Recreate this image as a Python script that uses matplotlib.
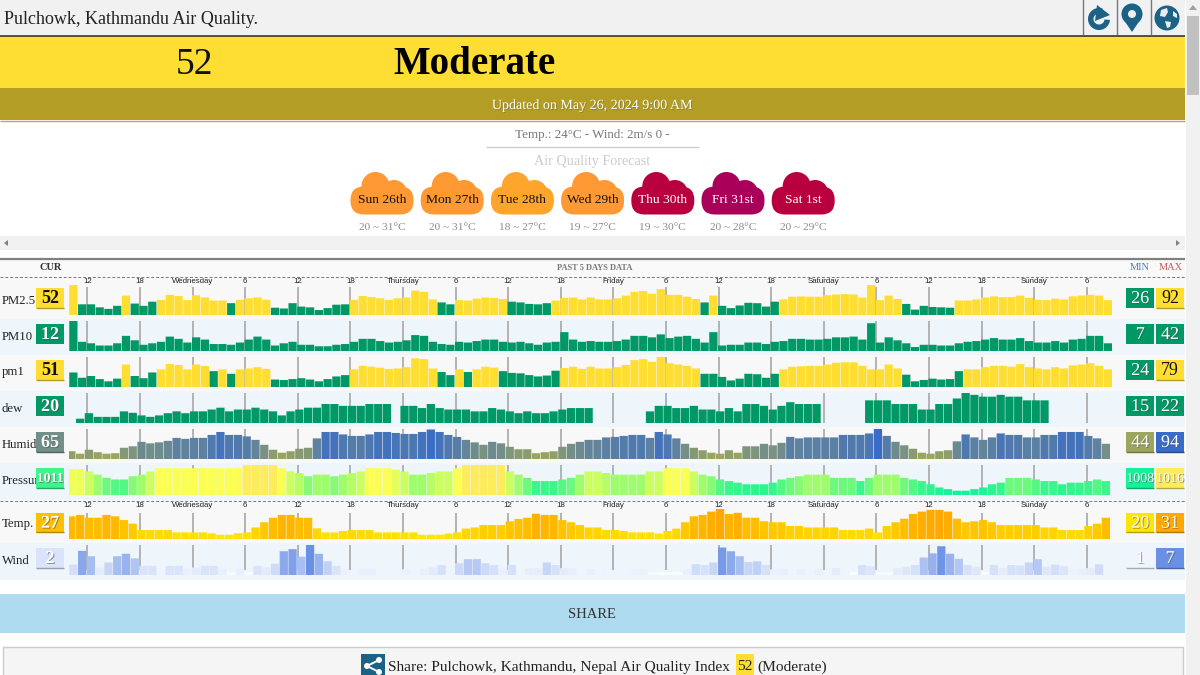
# Pulchowk air quality page: header, forecast clouds and 5 day bar rows

import numpy as np
import matplotlib
matplotlib.use('Agg')
import matplotlib.pyplot as plt
import matplotlib.patheffects as pe
from matplotlib.colors import LinearSegmentedColormap, Normalize
from matplotlib.patches import Rectangle, Circle, FancyBboxPatch, Polygon, Wedge

plt.rcParams['font.family'] = ['Liberation Serif', 'DejaVu Serif']

nan = float('nan')

# forecast
days = ['Sun 26th', 'Mon 27th', 'Tue 28th', 'Wed 29th', 'Thu 30th', 'Fri 31st', 'Sat 1st']
day_ranges = ['20 ~ 31°C', '20 ~ 31°C', '18 ~ 27°C', '19 ~ 27°C', '19 ~ 30°C', '20 ~ 28°C', '20 ~ 29°C']
day_colors = ['#ff9933', '#ff9933', '#ffa52c', '#ff9933', '#b8003f', '#a9005a', '#b8003f']

hour_labels = ['12', '18', 'Wednesday', '6', '12', '18', 'Thursday', '6', '12', '18', 'Friday',
               '6', '12', '18', 'Saturday', '6', '12', '18', 'Sunday', '6']

pm25 = [92,41,41,33,29,37,64,43,37,48,53,66,63,52,65,59,51,51,44,53,57,59,53,32,30,44,35,33,26,31,
        40,41,53,63,60,57,53,57,59,77,74,54,46,41,52,51,56,59,58,55,48,46,42,41,44,51,58,59,54,59,
        54,54,57,64,74,76,69,81,66,66,61,55,46,64,37,31,38,45,44,35,48,54,61,62,61,61,65,67,68,67,
        59,92,52,64,55,42,27,37,34,33,32,51,51,54,59,62,60,60,64,58,53,52,56,54,62,64,66,64,52]
pm10 = [42,14,12,9,9,12,22,16,10,12,14,21,18,13,20,17,11,11,10,13,17,21,17,9,12,14,10,10,8,8,
        10,11,14,18,18,15,13,14,16,23,22,14,11,10,14,13,15,17,17,14,13,14,12,10,13,14,27,17,14,15,
        14,14,15,17,22,22,20,24,19,21,22,18,13,27,9,10,10,13,13,11,14,15,18,18,17,17,18,20,20,21,
        17,39,13,20,16,12,7,10,10,9,9,12,14,15,17,19,17,17,19,15,13,13,15,13,17,18,22,22,12]
pm1 = [44,32,36,29,24,30,62,36,31,44,51,63,61,51,62,59,47,51,41,51,53,56,52,28,27,29,31,28,24,29,
       35,38,51,59,57,55,52,53,56,76,74,53,45,38,51,45,51,57,55,47,43,42,38,35,37,48,54,57,52,57,
       53,53,56,61,72,74,68,79,65,62,59,53,41,41,34,26,30,41,40,32,41,51,57,58,59,59,62,66,67,67,
       59,51,51,62,53,39,24,27,30,28,29,47,51,51,56,59,59,57,63,56,53,51,56,53,60,62,65,59,51]
dew = [nan,15,16.5,15.5,15.5,15.5,17,16.6,15.9,15.5,15.9,16.5,17,16.5,17,17,17.5,18,17,17.5,
       17.5,18,17.5,17,15.9,17,17.5,18,18,19,19,18.5,18.5,18.5,19,19,19,nan,18.5,18.5,
       17.9,19,17.9,17.5,17.5,17.5,17,17,17.9,17.5,17,16.5,17,16.5,16.5,17,17.5,17.9,17.9,17.9,
       nan,nan,nan,nan,nan,nan,17,18.5,18.5,17.9,17.9,18.5,17.5,17.5,17,17.9,17,19,19,18.5,
       17.5,18.5,19.5,19,19,19,nan,nan,nan,nan,nan,20,20,20,19,19,19,17.5,17.5,19,
       19,20.5,22,21.5,21,21,21.5,21,21,20,20,20,nan,nan,nan,nan,nan,nan,nan]
humid = [49,44,52,47,44,45,56,59,68,65,67,70,76,74,76,76,82,88,82,82,79,72,62,52,46,49,54,56,75,88,
         88,83,80,80,83,88,88,86,84,84,88,93,88,82,78,72,67,62,68,65,58,53,53,45,47,49,58,64,68,72,
         72,77,78,80,82,82,76,88,83,75,64,56,51,46,44,51,46,59,59,64,61,66,78,75,77,77,77,77,82,82,
         82,85,94,80,68,61,54,46,44,49,51,69,83,77,72,77,85,82,82,77,77,82,82,88,88,88,80,75,64]
pressure = [1014.7,1014.7,1014,1013,1012,1011.5,1011.5,1012.5,1013,1014,1015,1015,1015,1015,1015,1015,1015,1015,1015,1015,
            1016,1016,1016,1016,1015,1014,1013.5,1012.5,1013,1013,1012.5,1013,1013.5,1014,1015,1015,1015,1014.5,1014,1013,
            1013,1013.5,1014,1014,1015,1016,1016,1016,1016,1016,1014,1013,1012,1011,1011,1011,1011.5,1012,1013,1014,
            1014,1013.5,1013,1013,1013,1013,1014,1014,1015,1015,1015,1014,1013,1012.5,1011.5,1011,1010.5,1010,1010,1010,
            1010.5,1011.5,1012,1012.5,1013,1013,1013,1012,1012,1012,1011,1012,1013,1013,1013,1012,1011.5,1011,1010,1009,
            1008.5,1008,1008,1008.5,1009,1010,1010.5,1012,1012,1012,1011.5,1011,1011,1010,1010.5,1010.5,1011,1011.5,1011]
temp = [27.9,28.5,27.3,27.3,28.5,27.9,26.3,24.8,22.1,22.1,22.1,22.1,21.1,21.1,21.1,21.1,20.7,20.1,20.1,20.7,
        21.1,23.2,25.4,27.3,28.5,28.5,27.3,27.3,22.8,21.1,21.1,21.7,22.1,22.1,22.1,21.1,21.1,21.1,21.1,21.1,
        20.1,20.1,20.1,20.6,21.1,22.7,23.2,24.2,24.2,24.2,25.8,26.8,27.3,29,28.5,28.5,26.3,25.4,24.2,23.2,
        23.2,22.1,22.1,21.7,21.1,21.1,21.1,20.6,21.7,22.7,25.4,27.9,28.5,29.9,31,28.9,29.4,27.3,27.3,25.8,
        25.4,25.4,23.8,23.8,23.2,23.2,23.2,23.2,22.1,22.1,22.1,22.7,21.1,23.8,25.4,26.9,28.9,29.9,30.6,30.6,
        29.9,26.9,25.4,25.8,26.3,25.4,24.2,24.2,24.2,24.2,24.2,23.2,23.2,22.1,22.1,22.1,23.8,24.8,27.3]
wind = [2.3,5.6,4.3,1.6,2.8,4.3,4.9,3.8,2,2,1,2,2,1.3,1.6,2,2,1.3,0.5,1.3,
        0.5,2,1.6,2.5,5.5,6,4.2,7,4.9,3.1,2,1.2,1,1.3,1.3,1,1,1,1.2,1,
        1.3,1.6,2.2,1,2.6,3.6,3.6,2.6,2.2,1.3,2.2,1,1.4,1.4,2.8,2.2,1.5,1.3,1,1.3,
        1,1,1,1,1.2,1.2,0.5,0.5,0.5,0.5,1.3,2.4,2.2,2.8,6.4,5.5,4.3,2.9,3.1,2.2,
        1.2,1.3,1,1.3,1,1.3,1,1.5,1,0.6,2.2,1.9,0.5,0.5,1.5,1.8,2.2,4,5,6.7,
        4.9,3.7,2.2,1.8,0.5,2.2,1.5,2.2,2.1,2.8,3.6,1.8,2.3,1.9,1.2,1.3,1.5,2.4,nan]

row_names = ['PM2.5', 'PM10', 'pm1', 'dew', 'Humid', 'Pressure', 'Temp.', 'Wind']
row_values = [pm25, pm10, pm1, dew, humid, pressure, temp, wind]
row_cur = [52, 12, 51, 20, 65, 1011, 27, 2]
row_min = [26, 7, 24, 15, 44, 1008, 20, 1]
row_max = [92, 42, 79, 22, 94, 1016, 31, 7]

# scale of each row: (cmap name, bar height in px of the minimum value, bar shift in px)
row_style = [('aqi', 5, 0), ('aqi', 4, 0), ('aqi', 5.7, 0), ('aqi', 4.3, -2),
             ('humid', 5.3, -2), ('press', 4.3, -2), ('temp', 4, -2), ('wind', 5, 0)]
row_tops = [285, 321, 357, 393, 429, 465, 509, 545]
tick_tops = [287, 321, 357, 393, 429, 465, 513, 545]
row_bands = [(277, 319), (319, 355), (355, 391), (391, 427), (427, 463), (463, 500), (500, 543), (543, 580)]
GREEN = '#009966'
YELLOW = '#ffde33'
BLUE_ICON = '#1b6286'
PW = 8.767   # px per hourly bar

cmaps = {
    'humid': (LinearSegmentedColormap.from_list('h', ['#9ca65c', '#386cc8']), Normalize(44, 94)),
    'press': (LinearSegmentedColormap.from_list('p', [(0, '#12f297'), (0.375, '#3cf58a'), (0.625, '#9dfc6d'),
                                                     (0.875, '#fbff55'), (1, '#ffec5c')]), Normalize(1008, 1016)),
    'temp': (LinearSegmentedColormap.from_list('t', ['#ffe600', '#ffa800']), Normalize(20, 31)),
    'wind': (LinearSegmentedColormap.from_list('w', ['#fbfcff', '#6a90e6']), Normalize(0.5, 7)),
}


def value_color(kind, v):
    if kind == 'aqi':
        return YELLOW if v > 50 else GREEN
    cm, norm = cmaps[kind]
    return cm(norm(v))


fig = plt.figure(figsize=(12, 6.75), dpi=100)
ax = fig.add_axes([0, 0, 1, 1])
ax.set_xlim(0, 1200)
ax.set_ylim(675, 0)
ax.axis('off')


def box(x0, y0, x1, y1, color, z=1, **kw):
    ax.add_patch(Rectangle((x0, y0), x1 - x0, y1 - y0, facecolor=color, edgecolor='none', zorder=z, **kw))


def hline(y, x0, x1, color, lw=1, ls='-', z=2):
    ax.plot([x0, x1], [y, y], color=color, lw=lw, ls=ls, zorder=z, solid_capstyle='butt')


# header
box(0, 0, 1185, 35, '#f1f1f1')
hline(35.5, 0, 1185, '#333333', 1.2)
ax.text(4, 19, 'Pulchowk, Kathmandu Air Quality.', fontsize=13, color='#222222', va='center', zorder=3)
for x in [1083, 1116.5, 1150.5]:
    ax.plot([x, x], [0, 34], color='#777777', lw=1, zorder=2)
# refresh icon
ax.add_patch(Wedge((1099, 19), 11, 5, 290, width=5.5, facecolor=BLUE_ICON, edgecolor='none', zorder=3))
ax.add_patch(Polygon([(1097, 5), (1110, 15), (1095, 21)], facecolor=BLUE_ICON, edgecolor='none', zorder=3))
# pin icon
ax.add_patch(Circle((1132, 14), 10.5, facecolor=BLUE_ICON, edgecolor='none', zorder=3))
ax.add_patch(Polygon([(1122.5, 18), (1141.5, 18), (1132, 32)], facecolor=BLUE_ICON, edgecolor='none', zorder=3))
ax.add_patch(Circle((1132, 14), 4, facecolor='#eeeeee', edgecolor='none', zorder=4))
# globe icon
ax.add_patch(Circle((1167, 18), 12.5, facecolor=BLUE_ICON, edgecolor='none', zorder=3))
ax.add_patch(Polygon([(1161, 10), (1167, 8), (1168, 12), (1165, 17), (1160, 16)], facecolor='#e8eef0', edgecolor='none', zorder=4))
ax.add_patch(Polygon([(1165, 21), (1171, 22), (1170, 27), (1167, 28)], facecolor='#e8eef0', edgecolor='none', zorder=4))
ax.add_patch(Polygon([(1173, 11), (1177, 14), (1177, 18), (1173, 16)], facecolor='#e8eef0', edgecolor='none', zorder=4))

# scrollbar
box(1186, 0, 1200, 675, '#f1f1f1')
box(1187, 16, 1199, 95, '#c1c1c1', z=2)
ax.add_patch(Polygon([(1193, 5), (1197, 10), (1189, 10)], facecolor='#a0a0a0', edgecolor='none', zorder=3))

# index bands
box(0, 36, 1185, 88, YELLOW)
ax.text(195, 65, str(row_cur[0]), fontsize=27, color='#111111', ha='center', va='center', zorder=3)
ax.text(474, 65, 'Moderate', fontsize=28, fontweight='bold', color='#000000', ha='center', va='center', zorder=3)
box(0, 88, 1185, 120, '#b39d24')
hline(120.5, 0, 1185, '#b8a47c', 1)
ax.text(592, 105.5, 'Updated on May 26, 2024 9:00 AM', fontsize=10.1, color='white', ha='center', va='center', zorder=3,
        path_effects=[pe.withSimplePatchShadow(offset=(0.7, -0.7), alpha=0.35)])

# current weather and forecast
ax.text(592, 135, 'Temp.: 24°C - Wind: 2m/s 0 -', fontsize=9.4, color='#777777', ha='center', va='center', zorder=3)
hline(146.5, 486, 699, '#cccccc', 1)
ax.text(592, 161.5, 'Air Quality Forecast', fontsize=10.2, color='#cccccc', ha='center', va='center', zorder=3)
for i, day in enumerate(days):
    cx = 382 + i * 70.2
    col = day_colors[i]
    ax.add_patch(Circle((cx - 6.5, 186), 14, facecolor=col, edgecolor='none', zorder=2))
    ax.add_patch(Circle((cx + 12, 193), 13, facecolor=col, edgecolor='none', zorder=2))
    ax.add_patch(FancyBboxPatch((cx - 18, 200), 36, 1, boxstyle='round,pad=13.5,rounding_size=13.5',
                                facecolor=col, edgecolor='none', zorder=2))
    ax.text(cx, 200, day, fontsize=9.7, color='white' if i > 3 else '#111111', ha='center', va='center', zorder=3)
    ax.text(cx, 227.5, day_ranges[i], fontsize=8.2, color='#8a8a8a', ha='center', va='center', zorder=3)
box(0, 236, 1185, 250, '#f1f1f1')
ax.add_patch(Polygon([(4, 243), (8, 240), (8, 246)], facecolor='#808080', edgecolor='none', zorder=3))
ax.add_patch(Polygon([(1180, 243), (1176, 240), (1176, 246)], facecolor='#808080', edgecolor='none', zorder=3))

# table of rows
box(0, 259, 1185, 277, '#f9f9f9')
hline(258.7, 0, 1185, '#808080', 1.6)
hline(276.5, 0, 1185, '#777777', 0.7, (0, (3, 2)), z=6)
hline(500.5, 0, 1185, '#777777', 0.7, (0, (3, 2)), z=6)
ax.text(51, 267.5, 'CUR', fontsize=7.5, fontweight='bold', color='#333333', ha='center', va='center', zorder=3)
ax.text(595, 268, 'PAST 5 DAYS DATA', fontsize=6, fontweight='bold', color='#777777', ha='center', va='center', zorder=3)
ax.text(1140, 267.5, 'MIN', fontsize=7.5, color='#4a7fb0', ha='center', va='center', zorder=3)
ax.text(1171, 267.5, 'MAX', fontsize=7.5, color='#c05a5a', ha='center', va='center', zorder=3)


def badge(x0, x1, top, value, kind, bold=False):
    col = value_color(kind, value)
    box(x0, top, x1, top + 20, col, z=4)
    if col != GREEN:
        rgb = matplotlib.colors.to_rgb(col)
        hline(top + 19.5, x0, x1, tuple(c * 0.7 for c in rgb), 1, z=5)
    dark = col == YELLOW
    size = 10 if value >= 1000 else 13
    ax.text((x0 + x1) / 2, top + 10.5, str(value), fontsize=size, color='#111111' if dark else 'white', ha='center', va='center',
            fontweight='bold' if bold else 'normal', zorder=6,
            path_effects=None if dark else [pe.withSimplePatchShadow(offset=(0.7, -0.7), alpha=0.55)])


hour_ticks = 2.09 + 6 * np.arange(len(hour_labels))
n_hours = 119
for r, name in enumerate(row_names):
    kind, hmin, shift = row_style[r]
    top = row_tops[r]
    y0, y1 = row_bands[r]
    box(0, y0, 1185, y1, '#f8f8f8' if r in (0, 2, 4, 6) else '#eef6fb')
    ax.text(2, top + 15.5, name, fontsize=9.2, color='#222222', va='center', zorder=3)

    sub = fig.add_axes([69 / 1200, 1 - (top + 30) / 675, n_hours * PW / 1200, 30 / 675])
    sub.patch.set_visible(False)
    for s in sub.spines.values():
        s.set_visible(False)
    vals = np.array(row_values[r], dtype=float)
    scale = (row_max[r] - row_min[r]) / (30 - hmin)
    sub.set_ylim(row_min[r] - hmin * scale, row_max[r])
    sub.set_xlim(0, n_hours)
    xs = np.arange(n_hours) + 0.5 + shift / PW
    colors = ['none' if np.isnan(v) else value_color(kind, v) for v in vals]
    base = row_min[r] - hmin * scale
    bars = sub.bar(xs, np.nan_to_num(vals, nan=base) - base, bottom=base, width=0.94, color=colors, linewidth=0, zorder=3)
    for b in bars:
        b.set_snap(False)
    frac = (top + 30 - tick_tops[r]) / 30
    tick_low = base + (5 * scale if kind == 'wind' else 0)
    sub.vlines(hour_ticks, tick_low, base + frac * (row_max[r] - base), color='#a0a0a0', lw=1.1, zorder=2)
    sub.set_yticks([])
    sub.xaxis.tick_top()
    if r in (0, 6):
        sub.set_xticks(hour_ticks, hour_labels, fontsize=5.7, family='Liberation Sans', color='#222222')
        sub.tick_params(axis='x', length=0, pad=0)
    else:
        sub.set_xticks([])

    offset = 3 if r != 6 else 3.7
    badge(36, 64, top + offset, row_cur[r], kind, bold=True)
    badge(1126.3, 1154, top + offset, row_min[r], kind)
    badge(1156, 1184, top + offset, row_max[r], kind)

# share area
box(0, 594, 1185, 633, '#aedbf0')
ax.text(592, 614.5, 'SHARE', fontsize=10.5, color='#333333', ha='center', va='center', zorder=3)
box(3, 647, 1183, 675, '#f5f5f5')
hline(647.3, 3, 1183, '#cccccc', 1)
ax.plot([3, 3], [647, 675], color='#cccccc', lw=1, zorder=2)
ax.plot([1183, 1183], [647, 675], color='#cccccc', lw=1, zorder=2)
box(360.5, 654, 384.5, 675, BLUE_ICON, z=2)
ax.plot([379, 367, 379], [660, 666, 672], color='white', lw=1.4, zorder=3)
for px, py, pr in [(379, 660, 3), (367, 666, 3), (379, 672, 3)]:
    ax.add_patch(Circle((px, py), pr, facecolor='white', edgecolor='none', zorder=3))
ax.text(388, 667, 'Share: Pulchowk, Kathmandu, Nepal Air Quality Index', fontsize=11.1, color='#222222', va='center', zorder=3)
box(736, 654, 753.5, 675, YELLOW, z=2)
ax.text(744.7, 667, '52', fontsize=11.1, color='#222222', ha='center', va='center', zorder=3)
ax.text(757, 667, '(Moderate)', fontsize=11.1, color='#222222', va='center', zorder=3)

plt.savefig('out.png', dpi=100)
